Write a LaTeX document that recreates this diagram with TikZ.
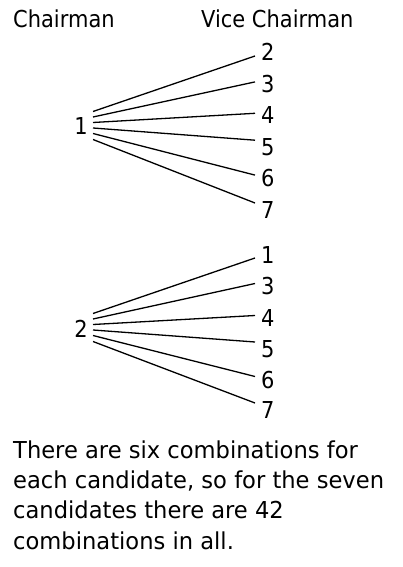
\documentclass[tikz,border=0pt]{standalone}
\usepackage{fontspec}
\setmainfont{DejaVu Sans}[FakeStretch=0.9]
\newfontfamily\parafont{DejaVu Sans}[FakeStretch=0.97]
\begin{document}
\begin{tikzpicture}[x=1pt,y=-1pt,
  lbl/.style={inner sep=0pt,font=\fontsize{23.3}{28}\selectfont},
  para/.style={inner sep=0pt,anchor=base west,font=\parafont\fontsize{23.3}{28}\selectfont},
  fan/.style={line width=1.3pt}]
\useasboundingbox (0,0) rectangle (402,567);
\node[lbl,anchor=base west] (hc) at (13,28) {Chairman};
\node[lbl,anchor=base west] (hv) at (201,28) {Vice Chairman};
% group 1
\node[lbl,anchor=base east] (l1) at (88,135) {1};
\foreach \n/\d/\y in {a/2/61,b/3/92.4,c/4/123.8,d/5/155.2,e/6/186.6,f/7/218}
  \node[lbl,anchor=base west] (r1\n) at (261,\y) {\d};
\foreach \n/\s/\e in {a/23.5pt/5pt,b/18pt/10.5pt,c/12.5pt/10.5pt,d/7pt/15pt,e/1.5pt/11.5pt,f/-4.5pt/15pt}
  \draw[fan] ([xshift=5pt,yshift=\s]l1.base east) -- ([xshift=-6pt,yshift=\e]r1\n.base west);
% group 2
\node[lbl,anchor=base east] (l2) at (88,337) {2};
\foreach \n/\d/\y in {a/1/263,b/3/294,c/4/326,d/5/357,e/6/388,f/7/418}
  \node[lbl,anchor=base west] (r2\n) at (261,\y) {\d};
\foreach \n/\s/\e in {a/23.5pt/5pt,b/18pt/10.5pt,c/12.5pt/10.5pt,d/7pt/15pt,e/1.5pt/11.5pt,f/-4.5pt/15pt}
  \draw[fan] ([xshift=5pt,yshift=\s]l2.base east) -- ([xshift=-6pt,yshift=\e]r2\n.base west);
% text
\node[para] (t1) at (13,458) {There are six combinations for};
\node[para] (t2) at (13,488) {each candidate, so for the seven};
\node[para] (t3) at (13,518) {candidates there are 42};
\node[para] (t4) at (13,549) {combinations in all.};
\end{tikzpicture}
\end{document}
